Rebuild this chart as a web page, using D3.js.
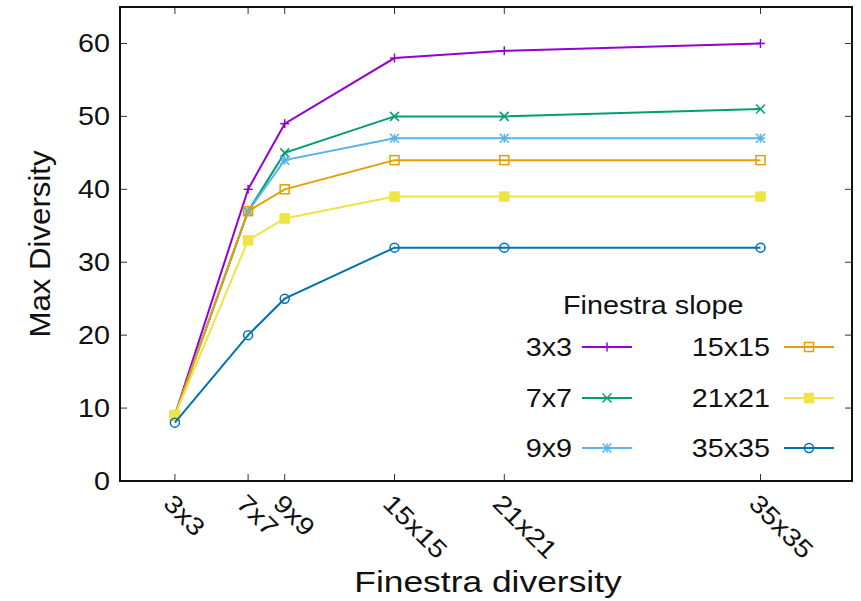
<!DOCTYPE html>
<html>
<head>
<meta charset="utf-8">
<script src="https://cdn.jsdelivr.net/npm/d3@7"></script>
<style>
  body { margin: 0; background: #fff; }
  svg { display: block; }
  text { font-family: "Liberation Sans", Arial, sans-serif; fill: #111; }
</style>
</head>
<body>
<svg id="chart"></svg>
<script>
// Data
const xLabels = ['3x3', '7x7', '9x9', '15x15', '21x21', '35x35'];
const xValues = [3, 7, 9, 15, 21, 35];
const seriesNames = ['3x3', '7x7', '9x9', '15x15', '21x21', '35x35'];
const slope3 = [9, 40, 49, 58, 59, 60];
const slope7 = [9, 37, 45, 50, 50, 51];
const slope9 = [9, 37, 44, 47, 47, 47];
const slope15 = [9, 37, 40, 44, 44, 44];
const slope21 = [9, 33, 36, 39, 39, 39];
const slope35 = [8, 20, 25, 32, 32, 32];
const yTicks = [0, 10, 20, 30, 40, 50, 60];

const seriesValues = [slope3, slope7, slope9, slope15, slope21, slope35];
const colors = ['#9400d3', '#009e73', '#56b4e9', '#e69f00', '#f0e442', '#0072b2'];
const markers = ['plus', 'cross', 'star', 'square', 'fsquare', 'circle'];

const width = 861, height = 601;
const margin = { top: 7, right: 9, bottom: 120, left: 120 };
const stretch = 'scale(1.15,1)';

const svg = d3.select('#chart').attr('width', width).attr('height', height);

const x = d3.scaleLinear().domain([0, 40]).range([margin.left, width - margin.right]);
const y = d3.scaleLinear().domain([0, 65]).range([height - margin.bottom, margin.top]);

const x0 = x.range()[0], x1 = x.range()[1];
const y0 = y.range()[0], y1 = y.range()[1];

// ticks (inward, mirrored)
const tickG = svg.append('g').attr('stroke', '#333').attr('stroke-width', 1);
xValues.forEach(v => {
    tickG.append('line').attr('x1', x(v)).attr('x2', x(v)).attr('y1', y0).attr('y2', y0 - 7);
    tickG.append('line').attr('x1', x(v)).attr('x2', x(v)).attr('y1', y1).attr('y2', y1 + 7);
});
yTicks.forEach(v => {
    tickG.append('line').attr('x1', x0).attr('x2', x0 + 7).attr('y1', y(v)).attr('y2', y(v));
    tickG.append('line').attr('x1', x1).attr('x2', x1 - 7).attr('y1', y(v)).attr('y2', y(v));
});

// y tick labels
svg.append('g').selectAll('text')
    .data(yTicks)
    .enter()
    .append('text')
    .attr('transform', d => `translate(${x0 - 10}, ${y(d)}) ${stretch}`)
    .attr('dy', '0.35em')
    .style('text-anchor', 'end')
    .style('font-size', '25px')
    .text(d => d);

// x tick labels, rotated
svg.append('g').selectAll('text')
    .data(xValues)
    .enter()
    .append('text')
    .attr('transform', d => `translate(${x(d) - 13}, ${y0 + 24}) rotate(45) ${stretch}`)
    .style('text-anchor', 'start')
    .style('font-size', '25px')
    .text((d, i) => xLabels[i]);

// axis titles
svg.append('text')
    .attr('transform', `translate(488, 592) scale(1.18,1)`)
    .style('text-anchor', 'middle')
    .style('font-size', '30px')
    .text('Finestra diversity');

svg.append('text')
    .attr('transform', `translate(50, 244) rotate(-90) scale(1.04,1)`)
    .style('text-anchor', 'middle')
    .style('font-size', '30px')
    .text('Max Diversity');

// marker drawing
function drawMarker(g, type, color, cx, cy) {
    const r = 4.5;
    const m = g.append('g').attr('transform', `translate(${cx}, ${cy})`)
        .attr('stroke', color).attr('stroke-width', 1.5).attr('fill', 'none');
    if (type === 'plus' || type === 'star') {
        m.append('line').attr('x1', -r).attr('x2', r).attr('y1', 0).attr('y2', 0);
        m.append('line').attr('x1', 0).attr('x2', 0).attr('y1', -r).attr('y2', r);
    }
    if (type === 'cross' || type === 'star') {
        m.append('line').attr('x1', -r).attr('x2', r).attr('y1', -r).attr('y2', r);
        m.append('line').attr('x1', -r).attr('x2', r).attr('y1', r).attr('y2', -r);
    }
    if (type === 'square') {
        m.append('rect').attr('x', -r).attr('y', -r).attr('width', 2 * r).attr('height', 2 * r);
    }
    if (type === 'fsquare') {
        m.append('rect').attr('x', -r).attr('y', -r).attr('width', 2 * r).attr('height', 2 * r)
            .attr('fill', color);
    }
    if (type === 'circle') {
        m.append('circle').attr('r', r);
    }
}

// series
const line = d3.line().x((d, i) => x(xValues[i])).y(d => y(d));
const plotG = svg.append('g');
seriesValues.forEach((vals, s) => {
    const g = plotG.append('g').attr('class', 'series');
    g.append('path')
        .datum(vals)
        .attr('d', line)
        .attr('fill', 'none')
        .attr('stroke', colors[s])
        .attr('stroke-width', 2);
    vals.forEach((v, i) => drawMarker(g, markers[s], colors[s], x(xValues[i]), y(v)));
});

// legend
const legend = svg.append('g');
legend.append('text')
    .attr('transform', `translate(563, 314) ${stretch}`)
    .style('font-size', '25px')
    .text('Finestra slope');

const colLabelX = [572, 770];
const colLineX = [582, 784];
const rowY = [347, 398, 448];
seriesNames.forEach((name, s) => {
    const col = Math.floor(s / 3), row = s % 3;
    const ly = rowY[row];
    legend.append('text')
        .attr('transform', `translate(${colLabelX[col]}, ${ly}) ${stretch}`)
        .attr('dy', '0.35em')
        .style('text-anchor', 'end')
        .style('font-size', '25px')
        .text(name);
    legend.append('line')
        .attr('x1', colLineX[col]).attr('x2', colLineX[col] + 50)
        .attr('y1', ly).attr('y2', ly)
        .attr('stroke', colors[s]).attr('stroke-width', 2);
    drawMarker(legend, markers[s], colors[s], colLineX[col] + 25, ly);
});

// frame
svg.append('rect')
    .attr('x', x0).attr('y', y1)
    .attr('width', x1 - x0).attr('height', y0 - y1)
    .attr('fill', 'none')
    .attr('stroke', '#111')
    .attr('stroke-width', 2);
</script>
</body>
</html>
